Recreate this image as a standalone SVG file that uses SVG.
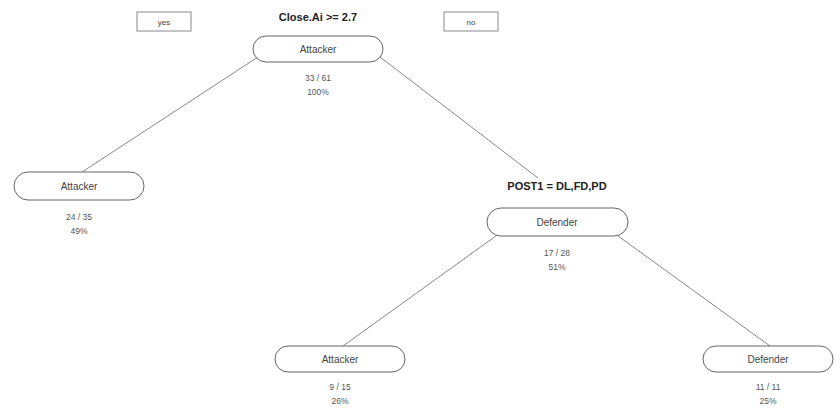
<svg xmlns="http://www.w3.org/2000/svg" width="840" height="410" viewBox="0 0 840 410">
<style>
.bg{fill:#fff}
.node rect{fill:#fff;stroke:#666;stroke-width:1}
.box{fill:#fff;stroke:#888;stroke-width:1}
text{font-family:"Liberation Sans Narrow","Liberation Sans",Arial,sans-serif;text-anchor:middle;fill:#444}
.lab{font-size:10px}
.st{font-size:8.5px;fill:#555}
.split{font-size:11px;font-weight:bold;fill:#222}
.yn{font-size:8px}
#connectors line{stroke:#888;stroke-width:1}
</style>
<rect class="bg" x="0" y="0" width="840" height="410"/>
<g id="connectors">
<line x1="258" y1="57" x2="82" y2="172"/>
<line x1="380" y1="57" x2="538" y2="178"/>
<line x1="500" y1="233" x2="343" y2="346"/>
<line x1="614" y1="233" x2="770" y2="346"/>
</g>
<g id="yes"><rect class="box" x="137" y="12" width="54" height="19"/><text class="yn" x="164" y="25">yes</text></g>
<g id="no"><rect class="box" x="444" y="12" width="54" height="19"/><text class="yn" x="471" y="25">no</text></g>
<g id="node1" class="node">
<text class="split" x="318" y="21">Close.Ai &gt;= 2.7</text>
<rect x="253" y="36" width="130" height="26" rx="13"/>
<text class="lab" x="318" y="53">Attacker</text>
<text class="st" x="318" y="81">33 / 61</text>
<text class="st" x="318" y="95">100%</text>
</g>
<g id="node2" class="node">
<rect x="14" y="172" width="130" height="28" rx="14"/>
<text class="lab" x="79" y="190">Attacker</text>
<text class="st" x="79" y="220">24 / 35</text>
<text class="st" x="79" y="234">49%</text>
</g>
<g id="node3" class="node">
<text class="split" x="557" y="190">POST1 = DL,FD,PD</text>
<rect x="487" y="208" width="141" height="28" rx="14"/>
<text class="lab" x="557" y="226">Defender</text>
<text class="st" x="557" y="256">17 / 28</text>
<text class="st" x="557" y="270">51%</text>
</g>
<g id="node4" class="node">
<rect x="275" y="346" width="130" height="26" rx="13"/>
<text class="lab" x="340" y="363">Attacker</text>
<text class="st" x="340" y="390">9 / 15</text>
<text class="st" x="340" y="404">26%</text>
</g>
<g id="node5" class="node">
<rect x="703" y="346" width="130" height="26" rx="13"/>
<text class="lab" x="768" y="363">Defender</text>
<text class="st" x="768" y="390">11 / 11</text>
<text class="st" x="768" y="404">25%</text>
</g>
</svg>
